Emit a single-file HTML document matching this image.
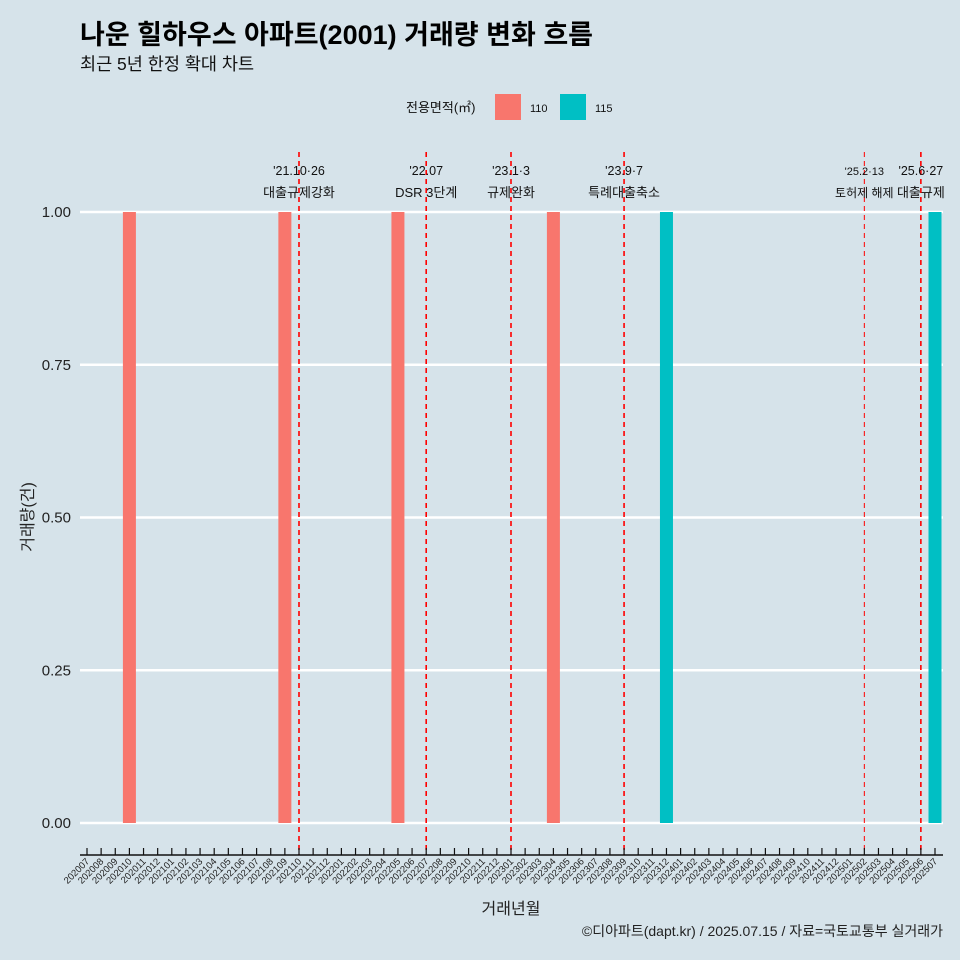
<!DOCTYPE html>
<html><head><meta charset="utf-8">
<style>
body{margin:0;background:#d6e3ea;}
svg{display:block;font-family:"Liberation Sans","Noto Sans CJK KR",sans-serif;}
</style></head>
<body>
<svg id="chart" width="960" height="960" viewBox="0 0 960 960" xmlns="http://www.w3.org/2000/svg">
<rect width="960" height="960" fill="#d6e3ea"/>
<text x="80" y="44" font-size="27" font-weight="bold" fill="#000">나운 힐하우스 아파트(2001) 거래량 변화 흐름</text>
<text x="80" y="70" font-size="17.5" fill="#111">최근 5년 한정 확대 차트</text>
<g>
<text x="406" y="112" font-size="13" fill="#111">전용면적(㎡)</text>
<rect x="495" y="94" width="26" height="26" fill="#f8766d"/>
<text x="530" y="112" font-size="11" fill="#111">110</text>
<rect x="560" y="94" width="26" height="26" fill="#00bfc4"/>
<text x="595" y="112" font-size="11" fill="#111">115</text>
</g>
<g id="grid"></g><g id="bars"></g><g id="events"></g><g id="xaxis"></g><g id="yaxis"></g>
<text transform="translate(33,517) rotate(-90)" text-anchor="middle" font-size="16" fill="#222">거래량(건)</text>
<text x="511" y="914" text-anchor="middle" font-size="16" fill="#222">거래년월</text>
<text x="943" y="936" text-anchor="end" font-size="14" fill="#222">©디아파트(dapt.kr) / 2025.07.15 / 자료=국토교통부 실거래가</text>
</svg>
<script>
const months = [];
for (let y = 2020; y <= 2025; y++) for (let m = 1; m <= 12; m++) { const k = y * 100 + m; if (k >= 202007 && k <= 202507) months.push(String(k)); }
const barMonths = ["202010","202109","202205","202304","202312","202507"];
const barValues = [1,1,1,1,1,1];
const barTypes = ["110","110","110","110","115","115"];
const yTicks = [0,0.25,0.5,0.75,1];
const yTickLabels = ["0.00","0.25","0.50","0.75","1.00"];
const eventMonths = ["202110","202207","202301","202309","202502","202506"];
const eventDates = ["'21.10·26","'22.07","'23.1·3","'23.9·7","'25.2·13","'25.6·27"];
const eventLabels = ["대출규제강화","DSR 3단계","규제완화","특례대출축소","토허제 해제","대출규제"];
const colors = {"110":"#f8766d","115":"#00bfc4"};
const NS = "http://www.w3.org/2000/svg";
const x = c => 87 + months.indexOf(c) * (848 / (months.length - 1));
const y = v => 823 - v * 611;
function mk(tag, attrs, parent, text) { const e = document.createElementNS(NS, tag); for (const k in attrs) e.setAttribute(k, attrs[k]); if (text != null) e.textContent = text; document.getElementById(parent).appendChild(e); return e; }
yTicks.forEach((t, i) => {
  const l = mk("line", {x1: 80, x2: 943, y1: y(t), y2: y(t), stroke: "#ffffff", "stroke-width": 2.6}, "grid");
  
  
  const tx = mk("text", {x: 71, y: y(t) + 5, "text-anchor": "end", "font-size": 15, fill: "#222"}, "yaxis", yTickLabels[i]);
  
  
});
barMonths.forEach((c, i) => {
  const r = mk("rect", {x: x(c) - 6.5, y: y(barValues[i]), width: 13, height: y(0) - y(barValues[i]), fill: colors[barTypes[i]]}, "bars");
  
  
});
eventMonths.forEach((c, i) => {
  const xx = x(c);
  const small = c === "202502";
  const l = mk("line", {x1: xx, x2: xx, y1: 152, y2: 855, stroke: "#ff0000", "stroke-width": small ? 1 : 1.6, "stroke-dasharray": "5,4"}, "events");
  
  
  const t1 = mk("text", {x: xx, y: 175, "text-anchor": "middle", "font-size": small ? 11 : 12.5, fill: "#111"}, "events", eventDates[i]);
  
  
  const t2 = mk("text", {x: xx, y: 197, "text-anchor": "middle", "font-size": small ? 12 : 13, fill: "#111"}, "events", eventLabels[i]);
  
  
});
const ax = mk("line", {x1: 80, x2: 943, y1: 855, y2: 855, stroke: "#111", "stroke-width": 1.5}, "xaxis");


months.forEach(c => {
  const xx = x(c);
  const t = mk("line", {x1: xx, x2: xx, y1: 848, y2: 855, stroke: "#111", "stroke-width": 1.2}, "xaxis");
  
  
  const lb = mk("text", {x: xx + 3, y: 862, "text-anchor": "end", "font-size": 9.5, fill: "#222", transform: "rotate(-45 " + (xx + 3) + " 862)"}, "xaxis", c);
  
  
});
</script>
</body></html>
